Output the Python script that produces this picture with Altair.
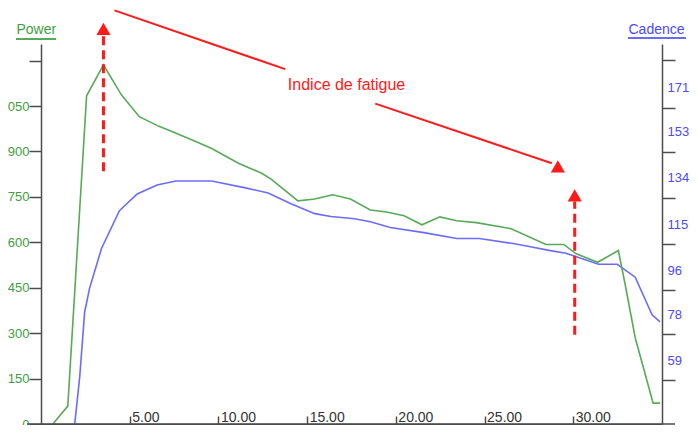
import altair as alt
import pandas as pd

# ---- data ----
power_t = [0.67, 1.51, 2.57, 3.52, 4.53, 5.54, 6.65, 7.38, 8.72, 9.62,
           11.13, 12.41, 12.97, 14.48, 15.43, 16.44, 17.44, 18.56, 19.40, 20.46,
           21.47, 22.48, 23.43, 24.54, 26.50, 28.46, 29.46, 30.14, 31.37, 32.54,
           32.93, 33.49, 34.50, 34.89]
power_w = [0, 59, 1084, 1186, 1087, 1015, 983, 966, 933, 910,
           861, 829, 809, 737, 743, 757, 743, 707, 701, 688,
           658, 684, 671, 665, 645, 593, 593, 563, 534, 573,
           459, 285, 69, 69]

cad_t = [1.90, 2.18, 2.46, 2.74, 3.41, 4.42, 5.42, 6.54, 7.60, 9.62,
         11.52, 12.80, 14.09, 15.43, 16.33, 17.67, 18.56, 19.68, 21.58, 23.43,
         24.71, 26.61, 27.51, 28.63, 29.58, 30.30, 31.42, 32.48, 33.49, 34.44,
         34.89]
cad_v = [41.1, 60.2, 87.1, 96.9, 113.2, 128.7, 135.6, 139.3, 140.9, 140.9,
         138.1, 136.0, 131.6, 127.5, 126.3, 125.4, 124.2, 121.8, 119.7, 117.3,
         117.3, 115.2, 114.0, 112.4, 111.2, 109.5, 106.7, 106.7, 101.4, 85.9,
         83.0]

x_ticks = [5, 10, 15, 20, 25, 30]
p_ticks = [0, 150, 300, 450, 600, 750, 900, 1050, 1200]
c_ticks = [59, 78, 96, 115, 134, 153, 171, 190.7]

# annotation ("Indice de fatigue") in data units
dash_t = [3.52, 30.08]
dash_p1 = [835, 295]
dash_p2 = [1290, 735]
head_t = [3.52, 30.08, 29.13]
head_p = [1305, 755, 851]
seg_t1 = [4.14, 18.84]
seg_p1 = [1366, 1058]
seg_t2 = [13.76, 28.79]
seg_p2 = [1172, 861]
label_t = [17.22]
label_p = [1120]
label_txt = ["Indice de fatigue"]

# ---- styling ----
GREEN_LINE = "#58aa58"
GREEN_TXT = "#40a040"
BLUE_LINE = "#6b6bff"
BLUE_TXT = "#4a4aff"
RED = "#ff1a1a"
AX = "#4d4d4d"
FONT = "Liberation Sans"
W, H = 621, 380

df_p = pd.DataFrame({"t": power_t, "power": power_w})
df_c = pd.DataFrame({"t": cad_t, "cadence": cad_v})
df_dash = pd.DataFrame({"t": dash_t, "p1": dash_p1, "p2": dash_p2})
df_head = pd.DataFrame({"t": head_t, "p": head_p})
df_seg = pd.DataFrame({"t1": seg_t1, "p1": seg_p1, "t2": seg_t2, "p2": seg_p2})
df_lab = pd.DataFrame({"t": label_t, "p": label_p, "txt": label_txt})
one = pd.DataFrame({"a": [0]})

xscale = alt.Scale(domain=[0, 35], nice=False, zero=False)
pscale = alt.Scale(domain=[0, 1255], nice=False)
cscale = alt.Scale(domain=[41.07, 197.2], nice=False, zero=False)

xaxis = alt.Axis(orient="top", offset=-H, values=x_ticks, format=".2f", title=None,
                 grid=False, tickSize=8, labelPadding=-5, labelAlign="left",
                 labelBaseline="alphabetic", labelOffset=2, labelFlush=False,
                 labelOverlap=False, labelColor="#333333", labelFontSize=14,
                 labelFont=FONT, domainColor=AX, tickColor=AX, domainWidth=1.5,
                 tickWidth=1.5)

paxis = alt.Axis(orient="left", values=p_ticks, title="Power", titleAngle=0,
                 titleAlign="left", titleBaseline="alphabetic", titleX=-25, titleY=-11,
                 titleColor=GREEN_TXT, titleFont=FONT, titleFontSize=14,
                 titleFontWeight="normal",
                 labelExpr="datum.value == 1050 ? '050' : (datum.value == 1200 ? '' : datum.label)",
                 labelColor=GREEN_TXT, labelFontSize=13, labelFont=FONT,
                 labelPadding=0, tickSize=12, grid=False, labelFlush=False,
                 labelOverlap=False, domainColor=AX, tickColor=AX,
                 domainWidth=1.5, tickWidth=1.5)

caxis = alt.Axis(orient="right", values=c_ticks, title="Cadence", titleAngle=0,
                 titleAlign="left", titleBaseline="alphabetic", titleX=-34, titleY=-11,
                 titleColor=BLUE_TXT, titleFont=FONT, titleFontSize=14,
                 titleFontWeight="normal",
                 labelExpr="datum.value > 180 ? '' : datum.label",
                 labelAlign="left", labelBaseline="middle", labelPadding=-8,
                 labelOffset=-20, labelColor=BLUE_TXT, labelFontSize=13,
                 labelFont=FONT, tickSize=13, grid=False, labelFlush=False,
                 labelOverlap=False, domainColor=AX, tickColor=AX,
                 domainWidth=1.5, tickWidth=1.5)

X = alt.X("t:Q", scale=xscale, axis=xaxis)

green = alt.Chart(df_p).mark_line(color=GREEN_LINE, strokeWidth=1.6).encode(
    x=X, y=alt.Y("power:Q", scale=pscale, axis=paxis))

dashes = alt.Chart(df_dash).mark_rule(color=RED, strokeWidth=3, strokeDash=[9, 5]).encode(
    x=X, y=alt.Y("p1:Q", scale=pscale, axis=paxis), y2="p2:Q")

heads = alt.Chart(df_head).mark_point(shape="triangle-up", filled=True, color=RED,
                                      opacity=1, size=200, strokeWidth=0).encode(
    x=X, y=alt.Y("p:Q", scale=pscale, axis=paxis))

segs = alt.Chart(df_seg).mark_rule(color=RED, strokeWidth=2).encode(
    x=alt.X("t1:Q", scale=xscale, axis=xaxis), x2="t2:Q",
    y=alt.Y("p1:Q", scale=pscale, axis=paxis), y2="p2:Q")

text = alt.Chart(df_lab).mark_text(color=RED, font=FONT, fontSize=16,
                                   align="center", baseline="middle").encode(
    x=X, y=alt.Y("p:Q", scale=pscale, axis=paxis), text="txt:N")

p_under = alt.Chart(one).mark_rule(color=GREEN_LINE, strokeWidth=2).encode(
    x=alt.value(-25), x2=alt.value(15), y=alt.value(-5))
c_under = alt.Chart(one).mark_rule(color=BLUE_LINE, strokeWidth=2).encode(
    x=alt.value(W - 34), x2=alt.value(W + 24), y=alt.value(-6))
base_ext = alt.Chart(one).mark_rule(color=AX, strokeWidth=1.5).encode(
    x=alt.value(-14), x2=alt.value(W + 13), y=alt.value(H))

power_group = alt.layer(green, dashes, heads, segs, text, p_under, c_under, base_ext)

blue = alt.Chart(df_c).mark_line(color=BLUE_LINE, strokeWidth=1.6).encode(
    x=X, y=alt.Y("cadence:Q", scale=cscale, axis=caxis))

chart = alt.layer(blue, power_group).resolve_scale(y="independent").properties(
    width=W, height=H, autosize="none",
    padding={"left": 33, "top": 36, "right": 29, "bottom": 1},
    background="white",
).configure_view(stroke=None)

chart.save("out.html", embed_options={"renderer": "svg", "actions": False})
